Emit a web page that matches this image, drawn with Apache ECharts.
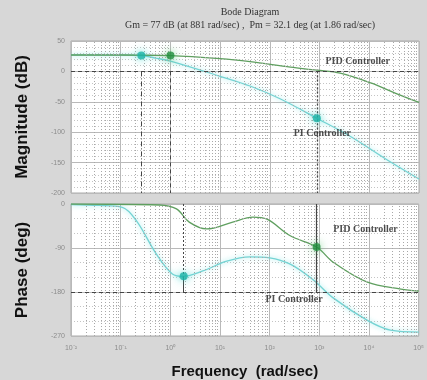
<!DOCTYPE html>
<html>
<head>
<meta charset="utf-8">
<script src="https://cdn.jsdelivr.net/npm/echarts@6/dist/echarts.min.js"></script>
<style>
html,body{margin:0;padding:0;background:#d7d7d7;}
#chart{width:427px;height:380px;}
</style>
</head>
<body>
<div id="chart"></div>
<script>
// ---- Frequency responses (frequency in rad/sec) ----
const piMagFreq  = [0.01, 0.1, 0.26, 0.5, 1, 10, 40, 160, 881, 4200, 21400, 100000];
const piMagDb    = [27, 27, 26, 22, 17, -8, -24, -45, -77, -107, -144, -177];

const pidMagFreq = [0.01, 0.1, 1, 10, 40, 260, 881, 2600, 10700, 34000, 100000];
const pidMagDb   = [27, 27, 26, 21, 16, 7, 2, -3, -19, -36, -51];

const piPhaseFreq = [0.01, 0.037, 0.108, 0.21, 0.52, 1.1, 1.86, 4.5, 13.7, 40, 100, 260, 750, 1900, 9300, 27000, 100000];
const piPhaseDeg  = [-1, -3, -7, -35, -102, -143, -147.9, -137, -117, -108, -110, -123, -155, -192, -238, -258, -262];

const pidPhaseFreq = [0.01, 0.6, 1.33, 2.4, 5.4, 18, 46, 88, 260, 881, 1900, 9300, 44000, 100000];
const pidPhaseDeg  = [0, -2, -10, -37, -51, -37, -27, -31, -65, -88, -119, -160, -174, -178];

// ---- Margin markers ----
const piMagMarker    = [0.26, 26];
const pidMagMarker   = [1, 26];
const gmFreq = 881, gmDb = -77;          // gain margin 77 dB at 881 rad/sec
const pmFreq = 1.86, pmDeg = -147.9;     // phase margin 32.1 deg at 1.86 rad/sec
const pidPhaseMarker = [881, -88];

// ---- Text ----
const titleText = 'Bode Diagram';
const subText = 'Gm = 77 dB (at 881 rad/sec) ,  Pm = 32.1 deg (at 1.86 rad/sec)';
const magTicks = [50, 0, -50, -100, -150, -200];
const phaseTicks = [0, -90, -180, -270];
const magAnnot   = [[5840, 17, 'PID Controller'], [1140, -102, 'PI Controller']];
const phaseAnnot = [[8500, -51, 'PID Controller'], [310, -196, 'PI Controller']];

const zip = (a, b) => a.map((v, i) => [v, b[i]]);
const supDigits = {'-':'\u207B','0':'\u2070','1':'\u00B9','2':'\u00B2','3':'\u00B3','4':'\u2074','5':'\u2075','6':'\u2076','7':'\u2077','8':'\u2078','9':'\u2079'};
const expLabel = v => '10' + String(Math.round(Math.log10(v))).split('').map(c => supDigits[c]).join('');

// minor log grid lines at 2..9 x 10^n
const minorLines = [];
for (let n = -2; n <= 4; n++) for (let k = 2; k <= 9; k++) minorLines.push({xAxis: k * Math.pow(10, n)});

const PI_COLOR = '#74d3d3', PID_COLOR = '#5f9f5f';
const DARK = '#444';

function curve(name, data, xi, color, glow) {
  return {
    name, type: 'line', xAxisIndex: xi, yAxisIndex: xi, data, smooth: 0.35,
    showSymbol: false, silent: true, animation: false,
    lineStyle: Object.assign({color, width: 1.3}, glow ? {shadowColor: 'rgba(110,225,225,0.8)', shadowBlur: 5} : {})
  };
}
function marker(point, xi, color, glowColor) {
  return {
    type: 'scatter', xAxisIndex: xi, yAxisIndex: xi, data: [point], symbolSize: 8, z: 5,
    silent: true, animation: false,
    itemStyle: {color, shadowBlur: 8, shadowColor: glowColor}
  };
}
function guide(xi, lines) {
  return {
    type: 'line', xAxisIndex: xi, yAxisIndex: xi, data: [], silent: true, animation: false,
    markLine: {symbol: 'none', silent: true, animation: false, label: {show: false}, data: lines}
  };
}
function seg(x, y1, y2, type, color, width) {
  return [{coord: [x, y1], lineStyle: {type, color, width}}, {coord: [x, y2]}];
}
function annot(items, xi) {
  return {
    type: 'scatter', xAxisIndex: xi, yAxisIndex: xi, symbolSize: 0, silent: true, animation: false, z: 6,
    data: items.map(a => ({value: [a[0], a[1]], name: a[2]})),
    label: {show: true, position: 'inside', formatter: p => p.name,
      fontFamily: 'Liberation Serif', fontWeight: 'bold', fontSize: 10, color: '#222'}
  };
}

const xAxisBase = {
  type: 'log', logBase: 10, min: 0.01, max: 100000, splitNumber: 7,
  axisLine: {show: false}, axisTick: {show: false},
  splitLine: {show: true, lineStyle: {color: '#b9b9b9', width: 1}}
};
const yAxisBase = {
  type: 'value', axisLine: {show: false}, axisTick: {show: false},
  axisLabel: {color: '#8c8c8c', fontSize: 7, margin: 6},
  splitLine: {show: true, lineStyle: {color: '#b9b9b9'}},
  minorSplitLine: {show: true, lineStyle: {color: '#c4c4c4', type: [1, 2]}},
  nameLocation: 'middle', nameRotate: 90,
  nameTextStyle: {fontFamily: 'Liberation Sans', fontWeight: 'bold', fontSize: 17, color: '#111'}
};

const chart = echarts.init(document.getElementById('chart'), null, {renderer: 'canvas'});
chart.setOption({
  backgroundColor: '#d7d7d7',
  animation: false,
  title: {
    text: titleText, subtext: subText, left: 245, top: 2, textAlign: 'center', itemGap: 3,
    textStyle: {fontFamily: 'Liberation Serif', fontSize: 10, fontWeight: 'normal', color: '#333'},
    subtextStyle: {fontFamily: 'Liberation Serif', fontSize: 10, color: '#333'}
  },
  grid: [
    {left: 71, right: 8, top: 41, height: 152, show: true, backgroundColor: '#fff', borderColor: '#aaa', borderWidth: 1},
    {left: 71, right: 8, top: 204, height: 133, show: true, backgroundColor: '#fff', borderColor: '#aaa', borderWidth: 1}
  ],
  xAxis: [
    Object.assign({}, xAxisBase, {gridIndex: 0, axisLabel: {show: false}}),
    Object.assign({}, xAxisBase, {gridIndex: 1,
      axisLabel: {show: true, color: '#8c8c8c', fontSize: 7, margin: 9, formatter: expLabel},
      name: 'Frequency  (rad/sec)', nameLocation: 'middle', nameGap: 28,
      nameTextStyle: {fontFamily: 'Liberation Sans', fontWeight: 'bold', fontSize: 15, color: '#111'}})
  ],
  yAxis: [
    Object.assign({}, yAxisBase, {gridIndex: 0, min: magTicks[magTicks.length - 1], max: magTicks[0], interval: 50,
      minorTick: {show: false, splitNumber: 5}, name: 'Magnitude (dB)', nameGap: 40}),
    Object.assign({}, yAxisBase, {gridIndex: 1, min: phaseTicks[phaseTicks.length - 1], max: phaseTicks[0], interval: 90,
      minorTick: {show: false, splitNumber: 3}, name: 'Phase (deg)', nameGap: 40})
  ],
  series: [
    // minor log grid
    guide(0, minorLines.map(m => Object.assign({lineStyle: {color: '#a8a8a8', type: [1, 2], width: 1}}, m))),
    guide(1, minorLines.map(m => Object.assign({lineStyle: {color: '#a8a8a8', type: [1, 2], width: 1}}, m))),
    // margin guides: magnitude
    guide(0, [
      {yAxis: 0, lineStyle: {color: DARK, type: [4, 3], width: 1}},
      seg(piMagMarker[0], 0, -200, [5, 2, 1, 2], DARK, 1),
      seg(pidMagMarker[0], 0, -200, [4, 3], DARK, 1),
      seg(gmFreq, 0, -200, [2, 2], DARK, 1.3)
    ]),
    // margin guides: phase
    guide(1, [
      {yAxis: -180, lineStyle: {color: DARK, type: [4, 3], width: 1}},
      seg(pmFreq, 0, pmDeg, [2, 2], DARK, 1),
      seg(pmFreq, pmDeg, -180, 'solid', DARK, 1),
      seg(gmFreq, 0, -180, 'solid', DARK, 1.2)
    ]),
    curve('PI magnitude', zip(piMagFreq, piMagDb), 0, PI_COLOR, true),
    curve('PID magnitude', zip(pidMagFreq, pidMagDb), 0, PID_COLOR, false),
    curve('PI phase', zip(piPhaseFreq, piPhaseDeg), 1, PI_COLOR, true),
    curve('PID phase', zip(pidPhaseFreq, pidPhaseDeg), 1, PID_COLOR, false),
    marker(piMagMarker, 0, '#1cb3a6', 'rgba(40,210,200,0.9)'),
    marker(pidMagMarker, 0, '#1f8d3c', 'rgba(60,190,90,0.9)'),
    marker([gmFreq, gmDb], 0, '#1cb3a6', 'rgba(40,210,200,0.9)'),
    marker([pmFreq, pmDeg], 1, '#1cb3a6', 'rgba(40,210,200,0.9)'),
    marker(pidPhaseMarker, 1, '#1f8d3c', 'rgba(60,190,90,0.9)'),
    annot(magAnnot, 0),
    annot(phaseAnnot, 1)
  ]
});
</script>
</body>
</html>
